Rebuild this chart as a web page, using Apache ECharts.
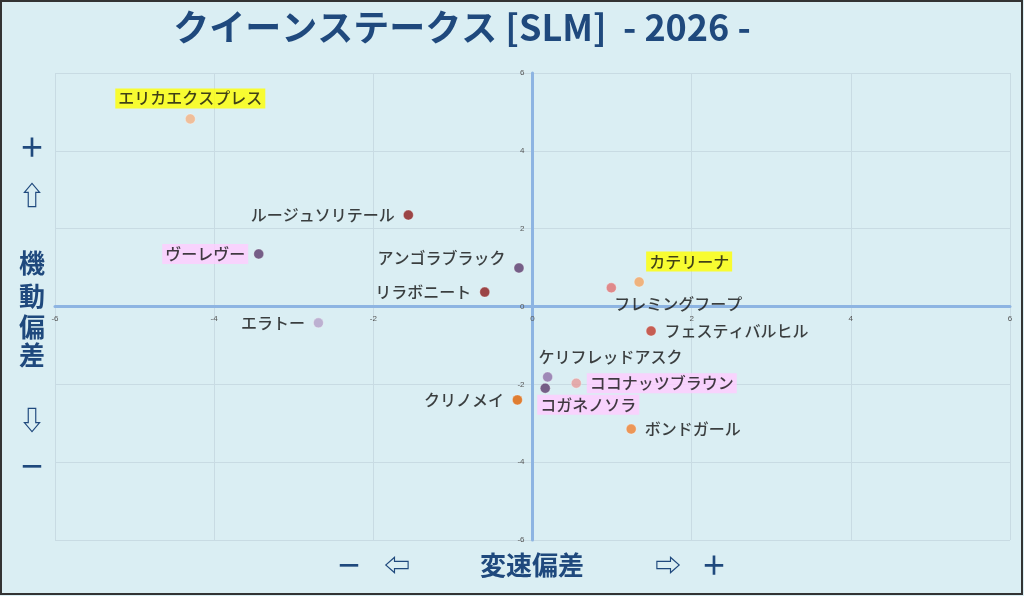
<!DOCTYPE html><html><head><meta charset="utf-8"><script src="https://cdn.jsdelivr.net/npm/echarts@6/dist/echarts.min.js"></script>
<style>html,body{margin:0;padding:0;background:#fff}#c{width:1024px;height:596px}</style></head><body><div id="c"></div>
<script>
const names=['エリカエクスプレス','ルージュソリテール','ヴーレヴー','アンゴラブラック','リラボニート','エラトー','カテリーナ','フレミングフープ','フェスティバルヒル','ケリフレッドアスク','ココナッツブラウン','コガネノソラ','クリノメイ','ボンドガール'];
const xs=[-4.30,-1.56,-3.44,-0.17,-0.60,-2.69,1.34,0.99,1.49,0.19,0.55,0.16,-0.19,1.24];
const ys=[4.82,2.35,1.35,0.99,0.37,-0.42,0.63,0.48,-0.63,-1.81,-1.97,-2.10,-2.40,-3.15];
const colors=['#f4b183','#8b1a1a','#5b3a6b','#5b3a6b','#8b1a1a','#b4a0c8','#f4a460','#e07070','#c0392b','#8e6fa8','#e69a9a','#5b3a6b','#e06000','#f08030'];
const pos=['top','left','left','left','left','left','top','bottom','right','top','right','bottom','left','right'];
const offs=[[0,0],[0,0],[0,0],[0,-10],[0,0],[0,0],[50,0],[67,-4],[0,0],[63,0],[0,0],[43,-4],[0,0],[0,0]];
const bgs=['#ffff00',null,'#ffccff',null,null,null,'#ffff00',null,null,null,'#ffccff','#ffccff',null,null];
const data=names.map((n,i)=>({name:n,value:[xs[i],ys[i]],itemStyle:{color:colors[i]},
 label:{position:pos[i],backgroundColor:bgs[i]||'transparent',padding:[2,3],offset:offs[i]}}));
const ch=echarts.init(document.getElementById('c'));
function ax(off){return {type:'value',min:-6,max:6,interval:2,offset:off,splitLine:{lineStyle:{color:'#c8dbe3'}},axisTick:{show:false},
 axisLine:{onZero:false,lineStyle:{color:'#8db4e2',width:3}},axisLabel:{fontSize:8,color:'#555'}};}
const T='#1f497d',F='Noto Sans CJK JP';
const ylab=[['＋',147],['⇧',195],['機',263],['動',296],['偏',327],['差',355],['⇩',420],['－',466]];
const xlab=[['－',349],['⇦',397],['変速偏差',532],['⇨',668],['＋',714]];
ch.setOption({
 backgroundColor:'#daeef3',
 title:{text:'クイーンステークス [SLM]  - 2026 -',left:457,textAlign:'center',top:4,textStyle:{fontSize:36,fontWeight:'bold',color:T,fontFamily:F}},
 graphic:[{type:'rect',shape:{x:1,y:1,width:1021,height:593},style:{fill:'none',stroke:'#333',lineWidth:2}}]
  .concat(ylab.map(([t,y])=>({type:'text',x:32,y:y,style:{text:t,fontSize:26,fontWeight:'bold',fill:T,fontFamily:F,align:'center',verticalAlign:'middle'}})))
  .concat(xlab.map(([t,x])=>({type:'text',x:x,y:565,style:{text:t,fontSize:26,fontWeight:'bold',fill:T,fontFamily:F,align:'center',verticalAlign:'middle'}}))),
 grid:{left:55,right:14,top:73,bottom:56},
 xAxis:ax(-233.5),
 yAxis:ax(-477.5),
 series:[{type:'scatter',symbolSize:10,data:data,
  label:{show:true,formatter:'{b}',fontSize:16,fontWeight:500,color:'#111',fontFamily:F},
  itemStyle:{borderColor:'rgba(255,255,255,0.4)',borderWidth:1}}]
});
</script></body></html>
